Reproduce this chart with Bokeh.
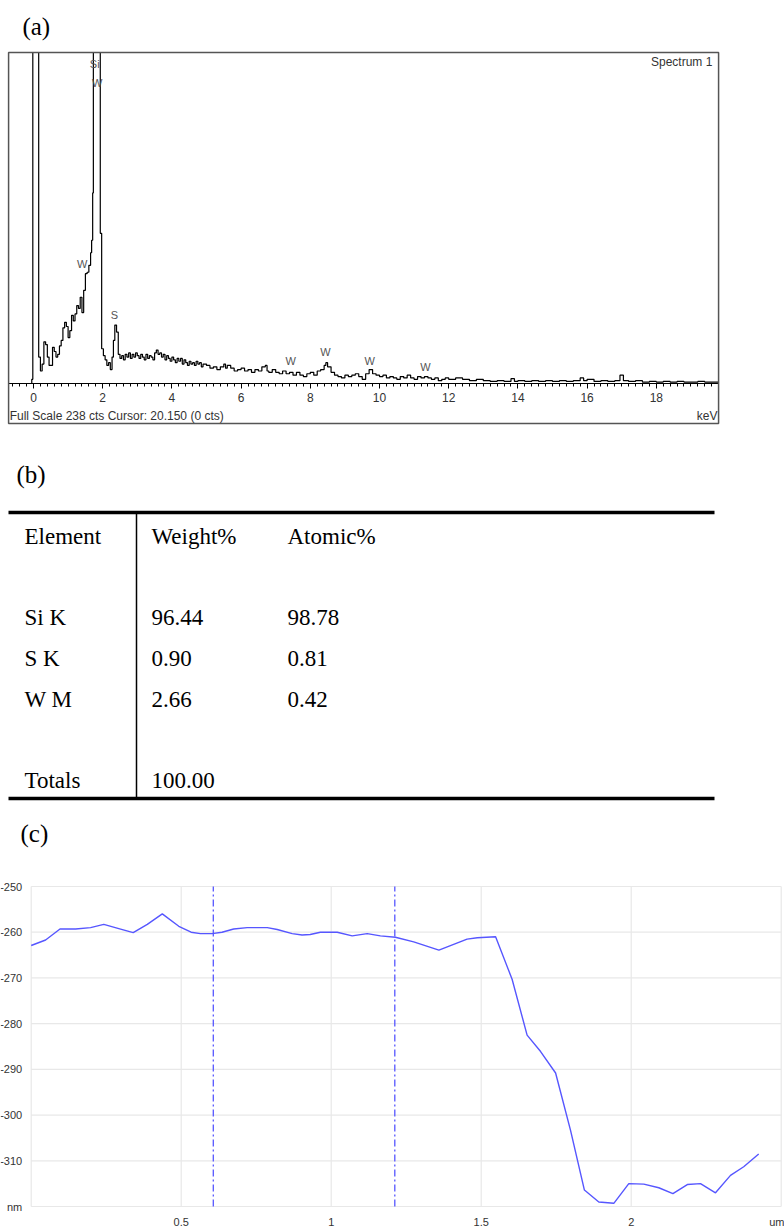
import numpy as np
from bokeh.plotting import figure
from bokeh.layouts import column
from bokeh.models import (LinearAxis, SingleIntervalTicker, FixedTicker, Range1d,
                          Label, BoxAnnotation, Grid)
from bokeh.core.properties import value
from bokeh.embed import file_html
from bokeh.resources import INLINE

# ---------------- (a) EDS spectrum ----------------
spec_kev = [-0.10, -0.05, -0.02, 0.05, 0.10, 0.15, 0.20, 0.25, 0.30, 0.35, 0.40, 0.45, 0.50,
            0.55, 0.60, 0.65, 0.70, 0.75, 0.80, 0.85, 0.90, 0.95, 1.00, 1.05, 1.10, 1.15,
            1.20, 1.25, 1.30, 1.35, 1.40, 1.45, 1.50, 1.55, 1.60, 1.65, 1.68, 1.71, 1.73,
            1.76, 1.79, 1.82, 1.85, 1.88, 1.91, 1.93, 1.97, 2.02, 2.07, 2.12, 2.17, 2.22,
            2.27, 2.31, 2.35, 2.40, 2.45, 2.50, 2.55, 2.60, 2.65, 2.70, 2.75, 2.80, 2.85,
            2.90, 2.95, 3.00, 3.05, 3.10, 3.15, 3.20, 3.25, 3.30, 3.35, 3.40, 3.45, 3.50,
            3.55, 3.60, 3.65, 3.70, 3.75, 3.80, 3.85, 3.90, 3.95, 4.00, 4.05, 4.10, 4.15,
            4.20, 4.25, 4.30, 4.35, 4.40, 4.45, 4.50, 4.55, 4.60, 4.65, 4.70, 4.75, 4.80,
            4.85, 4.90, 5.00, 5.10, 5.20, 5.30, 5.40, 5.50, 5.55, 5.60, 5.70, 5.80, 5.90,
            6.00, 6.10, 6.20, 6.30, 6.40, 6.50, 6.60, 6.70, 6.75, 6.80, 6.90, 7.00, 7.10,
            7.20, 7.30, 7.40, 7.50, 7.60, 7.70, 7.80, 7.90, 8.00, 8.10, 8.20, 8.30, 8.40,
            8.45, 8.50, 8.60, 8.70, 8.80, 8.90, 9.00, 9.10, 9.20, 9.30, 9.40, 9.50, 9.60,
            9.70, 9.80, 9.90, 10.00, 10.10, 10.20, 10.30, 10.40, 10.50, 10.60, 10.70, 10.80,
            10.90, 11.00, 11.10, 11.20, 11.30, 11.40, 11.50, 11.60, 11.70, 11.80, 11.90,
            12.00, 12.20, 12.40, 12.60, 12.80, 13.00, 13.20, 13.40, 13.60, 13.80, 13.90,
            14.00, 14.20, 14.40, 14.60, 14.80, 15.00, 15.20, 15.40, 15.60, 15.80, 15.90,
            16.00, 16.20, 16.40, 16.60, 16.80, 16.95, 17.05, 17.20, 17.40, 17.60, 17.80,
            18.00, 18.20, 18.40, 18.60, 18.80, 19.00, 19.20, 19.40, 19.60, 19.80]
spec_cts = [0, 3, 600, 900, 600, 19, 9, 14, 30, 28, 19, 13, 13,
            26, 23, 19, 21, 27, 31, 40, 44, 41, 33, 38, 49, 45,
            50, 56, 54, 62, 51, 67, 79, 80, 85, 94, 103, 137, 600,
            1400, 2100, 1800, 1000, 500, 300, 108, 25, 20, 17, 13, 15, 10,
            19, 31, 42, 37, 21, 18, 20, 17, 21, 19, 22, 18, 21,
            19, 22, 20, 18, 21, 19, 17, 21, 18, 20, 19, 17, 22,
            24, 21, 22, 19, 21, 17, 20, 18, 16, 19, 17, 15, 18,
            16, 18, 14, 17, 15, 13, 16, 14, 15, 13, 16, 14, 15,
            12, 14, 13, 11, 12, 10, 12, 14, 11, 13, 11, 9, 10,
            11, 9, 10, 8, 10, 9, 12, 13, 9, 8, 10, 8, 7,
            9, 7, 8, 6, 8, 6, 5, 7, 8, 6, 9, 10, 13,
            15, 12, 8, 6, 5, 4, 6, 5, 6, 7, 5, 3, 7,
            10, 7, 6, 5, 6, 4, 5, 4, 3, 5, 4, 6,
            4, 3, 5, 4, 5, 4, 3, 4, 2, 3, 4,
            3, 4, 3, 2, 3, 2, 1.5, 2, 1.5, 3.5, 1.5,
            2, 1.5, 2, 1.5, 2, 1.5, 2, 1.5, 2, 4, 2,
            3, 1.5, 2, 1.5, 2, 6, 2, 1.5, 2, 1, 1.5,
            1, 1.5, 1, 1.5, 1, 1, 1.5, 1, 1, 1]

peak_names = ["Si", "W", "W", "S", "W", "W", "W", "W"]
peak_kev = [1.77, 1.84, 1.41, 2.34, 7.43, 8.44, 9.72, 11.33]
peak_lbl_cts = [230, 216, 86, 49, 16.5, 23, 16.5, 11.7]

full_scale_cts = 238
cursor_kev = 20.150
kev_min, kev_max = -0.72, 19.8

SANS = "Liberation Sans"
SERIF = "Liberation Serif"
GREY_TXT = "#333333"

# the instrument display clips counts at full scale
disp_cts = np.minimum(np.array(spec_cts, dtype=float), full_scale_cts)

W = 784
px_per_kev = 34.6
zero_px = 33.0
cts_per_px = full_scale_cts / 331.0

ha = 425
pa = figure(width=W, height=ha, output_backend="svg", toolbar_location=None,
            x_range=Range1d(-zero_px / px_per_kev, (W - zero_px) / px_per_kev),
            y_range=Range1d(-(ha - 383) * cts_per_px, 383 * cts_per_px),
            x_axis_location=None, y_axis_location=None, min_border=0)
pa.xgrid.visible = False
pa.ygrid.visible = False
pa.outline_line_color = None

pa.add_layout(BoxAnnotation(left=kev_min, right=kev_max, bottom=-40 * cts_per_px,
                            top=full_scale_cts, fill_color=None, fill_alpha=0,
                            line_color="#555555", line_alpha=1.0, line_width=1.5))

xa = LinearAxis(ticker=SingleIntervalTicker(interval=2, num_minor_ticks=10))
xa.fixed_location = 0
xa.bounds = (kev_min, kev_max)
xa.axis_line_color = "black"
xa.major_tick_in = 0
xa.major_tick_out = 5
xa.minor_tick_in = 0
xa.minor_tick_out = 3
xa.major_label_standoff = 4
xa.major_label_text_font = SANS
xa.major_label_text_font_size = "12px"
xa.major_label_text_color = GREY_TXT
pa.add_layout(xa, "below")

pa.step(spec_kev, disp_cts, mode="after", line_color="black", line_width=1.2)

pa.text(x=peak_kev, y=peak_lbl_cts, text=peak_names, text_align="center",
        text_baseline="middle", text_font=value(SANS), text_font_size="11px",
        text_color="#555555")

pa.add_layout(Label(x=-0.32, y=(383 - 26) * cts_per_px, text="(a)", text_align="left",
                    text_baseline="middle", text_font=SERIF, text_font_size="25px",
                    text_color="black"))
pa.add_layout(Label(x=19.62, y=(383 - 61) * cts_per_px, text="Spectrum 1", text_align="right",
                    text_baseline="middle", text_font=SANS, text_font_size="12px",
                    text_color=GREY_TXT))
pa.add_layout(Label(x=-0.69, y=-(415 - 383) * cts_per_px,
                    text=f"Full Scale {full_scale_cts} cts Cursor: {cursor_kev:.3f}  (0 cts)",
                    text_align="left", text_baseline="middle", text_font=SANS,
                    text_font_size="12px", text_color=GREY_TXT))
pa.add_layout(Label(x=19.77, y=-(415 - 383) * cts_per_px, text="keV", text_align="right",
                    text_baseline="middle", text_font=SANS, text_font_size="12px",
                    text_color=GREY_TXT))

# ---------------- (b) composition table ----------------
headers = ["Element", "Weight%", "Atomic%"]
elements = ["Si K", "S K", "W M"]
weight_pct = [96.44, 0.90, 2.66]
atomic_pct = [98.78, 0.81, 0.42]
total_label = "Totals"
total_weight = 100.00

hb_top, hb_bot = 425, 812
pb = figure(width=W, height=hb_bot - hb_top, output_backend="svg", toolbar_location=None,
            x_range=Range1d(0, W), y_range=Range1d(hb_bot, hb_top),
            x_axis_location=None, y_axis_location=None, min_border=0)
pb.xgrid.visible = False
pb.ygrid.visible = False
pb.outline_line_color = None

col_x = [24, 151, 287]
header_y = 536
row_step = 40.7
tbl_top, tbl_bottom, tbl_left, tbl_right, sep_x = 512, 798, 8, 714, 136

pb.text(x=[16], y=[474], text=["(b)"], text_font=value(SERIF), text_font_size="25px",
        text_baseline="middle", text_color="black")

cells_x, cells_y, cells_t = [], [], []
for i, h in enumerate(headers):
    cells_x.append(col_x[i]); cells_y.append(header_y); cells_t.append(h)
for r, (el, w, a) in enumerate(zip(elements, weight_pct, atomic_pct)):
    y = header_y + row_step * (r + 2)
    for c, t in enumerate([el, f"{w:.2f}", f"{a:.2f}"]):
        cells_x.append(col_x[c]); cells_y.append(y); cells_t.append(t)
ty = header_y + row_step * (len(elements) + 3)
cells_x += [col_x[0], col_x[1]]
cells_y += [ty, ty]
cells_t += [total_label, f"{total_weight:.2f}"]
pb.text(x=cells_x, y=cells_y, text=cells_t, text_font=value(SERIF), text_font_size="23px",
        text_baseline="middle", text_color="black")

pb.segment(x0=[tbl_left, tbl_left], y0=[tbl_top, tbl_bottom],
           x1=[tbl_right, tbl_right], y1=[tbl_top, tbl_bottom],
           line_color="black", line_width=3.5)
pb.segment(x0=[sep_x], y0=[tbl_top], x1=[sep_x], y1=[tbl_bottom],
           line_color="black", line_width=1.5)

# ---------------- (c) height profile ----------------
prof_um = [0.0, 0.048, 0.096, 0.148, 0.198, 0.242, 0.292, 0.340, 0.387, 0.437, 0.492,
           0.533, 0.564, 0.603, 0.636, 0.675, 0.720, 0.787, 0.820, 0.870, 0.903, 0.930,
           0.964, 1.020, 1.070, 1.120, 1.164, 1.214, 1.275, 1.359, 1.453, 1.487, 1.548,
           1.603, 1.653, 1.698, 1.748, 1.798, 1.844, 1.892, 1.942, 1.992, 2.042, 2.092,
           2.139, 2.187, 2.231, 2.281, 2.331, 2.375, 2.425]
prof_nm = [-262.9, -261.7, -259.3, -259.3, -259.0, -258.3, -259.2, -260.1, -258.3, -256.0,
           -258.7, -260.0, -260.3, -260.3, -260.0, -259.3, -259.0, -259.0, -259.4, -260.3,
           -260.6, -260.5, -260.0, -260.0, -260.8, -260.3, -260.8, -261.1, -262.1, -263.9,
           -261.5, -261.2, -261.0, -270.3, -282.5, -286.1, -290.8, -303.4, -316.4, -319.0,
           -319.3, -315.0, -315.1, -315.9, -317.2, -315.2, -315.0, -317.0, -313.2, -311.3,
           -308.5]
cursor_um = [0.607, 1.212]
y_ticks = [-320, -310, -300, -290, -280, -270, -260, -250]
x_ticks = [0.5, 1.0, 1.5, 2.0, 2.5]
x_grid = [0.0, 0.5, 1.0, 1.5, 2.0, 2.5]
um_min, um_max = 0.0, 2.5
nm_min, nm_max = -320, -250

BLUE = "#5656ff"
GRID = "#e8e8e8"

hc_top, hc_bot = 812, 1227
px_per_um = 300.0
x0_px = 30.7
top_px = 886.0
bottom_px = 1206.0
px_per_nm = (bottom_px - top_px) / (nm_max - nm_min)

pc = figure(width=W, height=hc_bot - hc_top, output_backend="svg", toolbar_location=None,
            x_range=Range1d(-x0_px / px_per_um, (W - x0_px) / px_per_um),
            y_range=Range1d(nm_max - (hc_bot - top_px) / px_per_nm,
                            nm_max + (top_px - hc_top) / px_per_nm),
            x_axis_location=None, y_axis_location=None, min_border=0)
pc.xgrid.visible = False
pc.ygrid.visible = False
pc.outline_line_color = None

# grid lines limited to the plotting area of the profile
pc.segment(x0=x_grid, y0=[nm_min] * len(x_grid), x1=x_grid, y1=[nm_max] * len(x_grid),
           line_color=GRID, line_width=1.2)
pc.segment(x0=[um_min] * len(y_ticks), y0=y_ticks, x1=[um_max] * len(y_ticks), y1=y_ticks,
           line_color=GRID, line_width=1.2)

cxa = LinearAxis(ticker=FixedTicker(ticks=x_ticks))
cxa.fixed_location = nm_min
cxa.major_label_overrides = {t: ("um" if t == um_max else f"{t:g}") for t in x_ticks}
cya = LinearAxis(ticker=FixedTicker(ticks=y_ticks))
cya.fixed_location = um_min
cya.major_label_overrides = {t: ("nm" if t == nm_min else str(t)) for t in y_ticks}
for ax in (cxa, cya):
    ax.axis_line_color = None
    ax.major_tick_line_color = None
    ax.minor_tick_line_color = None
    ax.major_label_text_font = SANS
    ax.major_label_text_font_size = "11px"
    ax.major_label_text_color = GREY_TXT
    ax.major_label_standoff = 3
pc.add_layout(cxa, "below")
pc.add_layout(cya, "left")

pc.line(prof_um, prof_nm, line_color=BLUE, line_width=1.4)
pc.segment(x0=cursor_um, y0=[nm_min] * len(cursor_um), x1=cursor_um,
           y1=[nm_max] * len(cursor_um), line_color=BLUE, line_width=1.3,
           line_dash="7 3 2 3")

pc.add_layout(Label(x=(20 - x0_px) / px_per_um, y=nm_max + (top_px - 833) / px_per_nm,
                    text="(c)", text_align="left", text_baseline="middle",
                    text_font=SERIF, text_font_size="25px", text_color="black"))

layout = column(pa, pb, pc, spacing=0)
open("out.html", "w").write(file_html(layout, INLINE))
